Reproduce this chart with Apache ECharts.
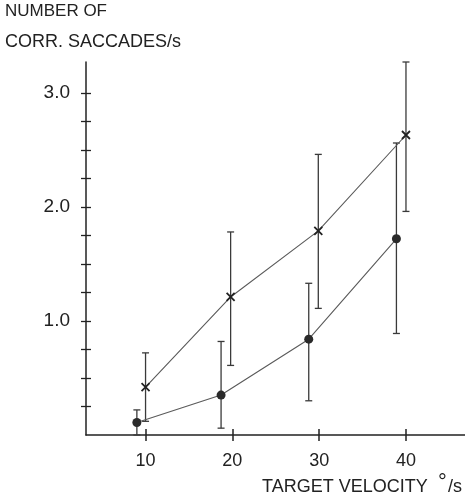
<!DOCTYPE html>
<html>
<head>
<meta charset="utf-8">
<script src="https://cdn.jsdelivr.net/npm/echarts@6/dist/echarts.min.js"></script>
<style>
  html, body { margin: 0; padding: 0; background: #ffffff; }
  #chart { width: 465px; height: 501px; }
</style>
</head>
<body>
<div id="chart"></div>
<script>
// Corrective saccade rate vs. target velocity, two conditions with error bars
const crossX    = [10, 19.8, 29.9, 40];
const crossMean = [0.42, 1.21, 1.79, 2.63];
const crossLow  = [0.12, 0.61, 1.11, 1.96];
const crossHigh = [0.72, 1.78, 2.46, 3.27];

const dotX    = [9.0, 18.7, 28.8, 38.9];
const dotMean = [0.11, 0.35, 0.84, 1.72];
const dotLow  = [0.0, 0.06, 0.30, 0.89];
const dotHigh = [0.22, 0.82, 1.33, 2.56];

const xTickValues = [10, 20, 30, 40];
const yTickValues = [0.25, 0.5, 0.75, 1.0, 1.25, 1.5, 1.75, 2.0, 2.25, 2.5, 2.75, 3.0];
const yLabelValues = [1.0, 2.0, 3.0];

const INK = '#222222';
const LINE = '#5a5a5a';
const FONT = '"Liberation Sans", Arial, sans-serif';

function pairs(xs, ys) { return xs.map((x, i) => [x, ys[i]]); }
function bars(xs, lo, hi) { return xs.map((x, i) => [x, lo[i], hi[i]]); }

function errorBarItem(params, api) {
  const x = api.value(0);
  const lo = api.coord([x, api.value(1)]);
  const hi = api.coord([x, api.value(2)]);
  const cap = 3.5;
  const style = { stroke: '#3a3a3a', lineWidth: 1.3 };
  return {
    type: 'group',
    children: [
      { type: 'line', shape: { x1: lo[0], y1: lo[1], x2: hi[0], y2: hi[1] }, style },
      { type: 'line', shape: { x1: hi[0] - cap, y1: hi[1], x2: hi[0] + cap, y2: hi[1] }, style },
      { type: 'line', shape: { x1: lo[0] - cap, y1: lo[1], x2: lo[0] + cap, y2: lo[1] }, style }
    ]
  };
}

const chart = echarts.init(document.getElementById('chart'), null, { renderer: 'canvas' });

const xBase = {
  type: 'value', min: 3.14, max: 46.8,
  splitLine: { show: false }
};
const yBase = {
  type: 'value', min: 0, max: 3.27,
  splitLine: { show: false }
};

chart.setOption({
  backgroundColor: '#ffffff',
  animation: false,
  grid: { left: 86, top: 62, right: 0, bottom: 66 },
  xAxis: [
    Object.assign({}, xBase, {
      axisLine: { show: true, lineStyle: { color: INK, width: 1.5 } },
      axisTick: { show: true, inside: false, length: 6, customValues: xTickValues, lineStyle: { color: INK, width: 1.5 } },
      axisLabel: { show: true, customValues: xTickValues, margin: 17, color: INK, fontFamily: FONT, fontSize: 18 }
    }),
    Object.assign({}, xBase, {
      position: 'bottom',
      axisLine: { show: false },
      axisTick: { show: true, inside: true, length: 6, customValues: xTickValues, lineStyle: { color: INK, width: 1.5 } },
      axisLabel: { show: false }
    })
  ],
  yAxis: [
    Object.assign({}, yBase, {
      axisLine: { show: true, lineStyle: { color: INK, width: 1.5 } },
      axisTick: { show: true, inside: false, length: 5, customValues: yTickValues, lineStyle: { color: INK, width: 1.3 } },
      axisLabel: {
        show: true, customValues: yLabelValues, margin: 16, color: INK,
        fontFamily: FONT, fontSize: 19,
        formatter: v => v.toFixed(1)
      }
    }),
    Object.assign({}, yBase, {
      position: 'left',
      axisLine: { show: false },
      axisTick: { show: true, inside: true, length: 5, customValues: yTickValues, lineStyle: { color: INK, width: 1.3 } },
      axisLabel: { show: false }
    })
  ],
  graphic: [
    { type: 'text', left: 5, top: 3, style: { text: 'NUMBER OF', fill: INK, font: '17px ' + FONT } },
    { type: 'text', left: 5, top: 33, style: { text: 'CORR. SACCADES/s', fill: INK, font: '18px ' + FONT } },
    { type: 'text', left: 262, top: 478, style: { text: 'TARGET VELOCITY', fill: INK, font: '18px ' + FONT } },
    { type: 'text', left: 438, top: 472, style: { text: '°', fill: INK, font: '22px ' + FONT } },
    { type: 'text', left: 448, top: 478, style: { text: '/s', fill: INK, font: '18px ' + FONT } }
  ],
  series: [
    {
      name: 'crossLine', type: 'line', data: pairs(crossX, crossMean),
      symbol: 'path://M0,0L10,10M10,0L0,10', symbolSize: 8,
      itemStyle: { color: 'none', borderColor: '#222', borderWidth: 1.8 },
      lineStyle: { color: LINE, width: 1.1 }, z: 3
    },
    {
      name: 'dotLine', type: 'line', data: pairs(dotX, dotMean),
      symbol: 'circle', symbolSize: 9,
      itemStyle: { color: '#2a2a2a' },
      lineStyle: { color: LINE, width: 1.1 }, z: 3
    },
    {
      name: 'crossErr', type: 'custom', data: bars(crossX, crossLow, crossHigh),
      renderItem: errorBarItem, clip: false, z: 2
    },
    {
      name: 'dotErr', type: 'custom', data: bars(dotX, dotLow, dotHigh),
      renderItem: errorBarItem, clip: false, z: 2
    }
  ]
});
</script>
</body>
</html>
